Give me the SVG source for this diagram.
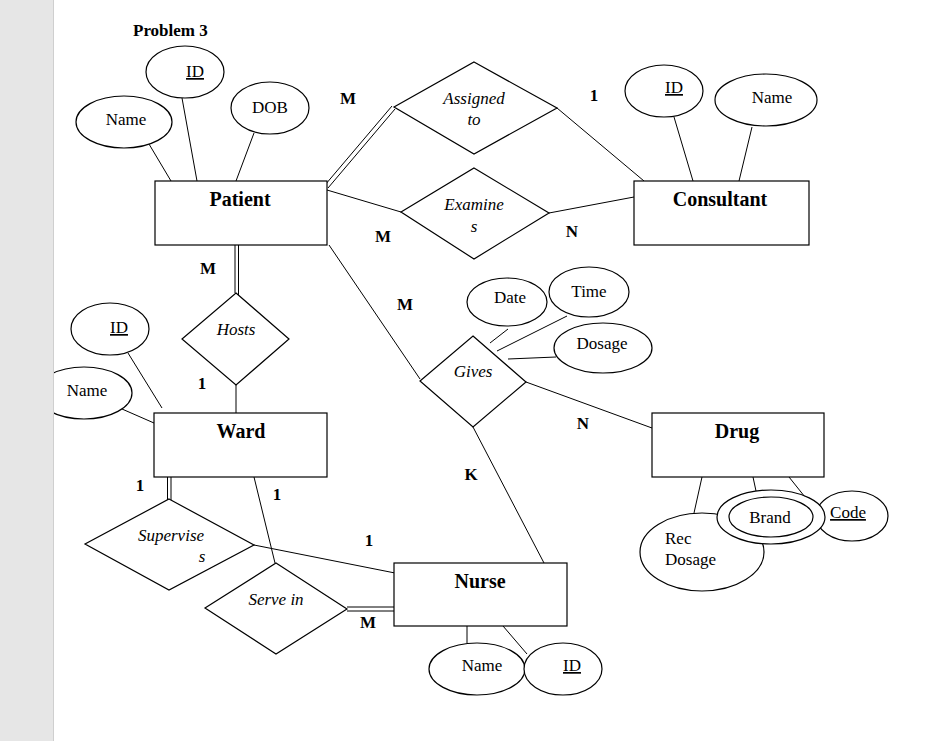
<svg xmlns="http://www.w3.org/2000/svg" width="949" height="741" viewBox="0 0 949 741">
  <style>
    .shape { fill: #ffffff; stroke: #000000; stroke-width: 1.2; }
    .link { stroke: #000000; stroke-width: 1; fill: none; }
    text { font-family: "Liberation Serif", "Times New Roman", serif; fill: #000000; }
    .ent { font-size: 20px; font-weight: bold; text-anchor: middle; }
    .att { font-size: 17px; text-anchor: middle; }
    .rel { font-size: 17px; font-style: italic; text-anchor: middle; }
    .card { font-size: 17px; font-weight: bold; text-anchor: middle; }
    .key { text-decoration: underline; }
  </style>

  <rect x="0" y="0" width="949" height="741" fill="#ffffff"/>

  <text x="133" y="36" style="font-size:17px;font-weight:bold">Problem 3</text>

  <!-- connectors -->
  <g id="connectors">
    <!-- Patient attributes -->
    <line class="link" x1="146" y1="139" x2="171" y2="181"/>
    <line class="link" x1="182" y1="98" x2="197" y2="181"/>
    <line class="link" x1="254" y1="133" x2="236" y2="181"/>
    <!-- Patient = Assigned to (double) -->
    <line class="link" x1="325" y1="185" x2="392" y2="106"/>
    <line class="link" x1="328" y1="188" x2="395" y2="109"/>
    <!-- Assigned to - Consultant -->
    <line class="link" x1="557" y1="108" x2="644" y2="181"/>
    <!-- Patient - Examines - Consultant -->
    <line class="link" x1="327" y1="190" x2="401" y2="212"/>
    <line class="link" x1="549" y1="213" x2="634" y2="197"/>
    <!-- Consultant attributes -->
    <line class="link" x1="674" y1="117" x2="693" y2="181"/>
    <line class="link" x1="752" y1="127" x2="739" y2="181"/>
    <!-- Patient = Hosts (double) - Ward -->
    <line class="link" x1="235" y1="245" x2="235" y2="293"/>
    <line class="link" x1="238.5" y1="245" x2="238.5" y2="295"/>
    <line class="link" x1="236" y1="385" x2="236" y2="413"/>
    <!-- Ward attributes -->
    <line class="link" x1="128" y1="353" x2="162" y2="408"/>
    <line class="link" x1="122" y1="409" x2="154" y2="423"/>
    <!-- Patient - Gives -->
    <line class="link" x1="329" y1="245" x2="420" y2="379"/>
    <!-- Gives attributes -->
    <line class="link" x1="508" y1="329" x2="490" y2="343"/>
    <line class="link" x1="567" y1="316" x2="497" y2="351"/>
    <line class="link" x1="556" y1="357" x2="508" y2="359"/>
    <!-- Gives - Drug, Gives - Nurse -->
    <line class="link" x1="526" y1="382" x2="652" y2="428"/>
    <line class="link" x1="473" y1="427" x2="544" y2="563"/>
    <!-- Drug attributes -->
    <line class="link" x1="702" y1="477" x2="694" y2="513"/>
    <line class="link" x1="753" y1="477" x2="756" y2="491"/>
    <line class="link" x1="789" y1="477" x2="805" y2="497"/>
    <!-- Ward = Supervises (double) - Nurse -->
    <line class="link" x1="167.5" y1="477" x2="167.5" y2="500"/>
    <line class="link" x1="171" y1="477" x2="171" y2="501"/>
    <line class="link" x1="254" y1="545" x2="395" y2="573"/>
    <!-- Ward - Serve in = Nurse (double) -->
    <line class="link" x1="254" y1="477" x2="275" y2="563"/>
    <line class="link" x1="347" y1="607" x2="394" y2="607"/>
    <line class="link" x1="347" y1="611" x2="394" y2="611"/>
    <!-- Nurse attributes -->
    <line class="link" x1="467" y1="626" x2="467" y2="643"/>
    <line class="link" x1="503" y1="626" x2="527" y2="654"/>
  </g>

  <!-- entities -->
  <g id="patient">
    <rect class="shape" x="155" y="181" width="172" height="64"/>
    <text class="ent" x="240" y="206">Patient</text>
  </g>
  <g id="consultant">
    <rect class="shape" x="634" y="181" width="175" height="64"/>
    <text class="ent" x="720" y="206">Consultant</text>
  </g>
  <g id="ward">
    <rect class="shape" x="154" y="413" width="173" height="64"/>
    <text class="ent" x="241" y="438">Ward</text>
  </g>
  <g id="drug">
    <rect class="shape" x="652" y="413" width="172" height="64"/>
    <text class="ent" x="737" y="438">Drug</text>
  </g>
  <g id="nurse">
    <rect class="shape" x="394" y="563" width="173" height="63"/>
    <text class="ent" x="480" y="588">Nurse</text>
  </g>

  <!-- relationships -->
  <g id="assigned-to">
    <polygon class="shape" points="474,62 557,108 474,154 394,107"/>
    <text class="rel" x="474" y="104">Assigned</text>
    <text class="rel" x="474" y="125">to</text>
  </g>
  <g id="examines">
    <polygon class="shape" points="474,168 549,213 474,259 401,212"/>
    <text class="rel" x="474" y="210">Examine</text>
    <text class="rel" x="474" y="232">s</text>
  </g>
  <g id="hosts">
    <polygon class="shape" points="236,293 289,339 236,385 182,339"/>
    <text class="rel" x="236" y="335">Hosts</text>
  </g>
  <g id="gives">
    <polygon class="shape" points="473,336 526,382 473,427 420,381"/>
    <text class="rel" x="473" y="377">Gives</text>
  </g>
  <g id="supervises">
    <polygon class="shape" points="169,499 254,545 169,590 85,544"/>
    <text class="rel" x="171" y="541">Supervise</text>
    <text class="rel" x="202" y="562">s</text>
  </g>
  <g id="serve-in">
    <polygon class="shape" points="276,563 347,609 276,654 205,608"/>
    <text class="rel" x="276" y="605">Serve in</text>
  </g>

  <!-- attributes -->
  <g id="patient-id">
    <ellipse class="shape" cx="185" cy="72" rx="39" ry="26"/>
    <text class="att key" x="195" y="77">ID</text>
  </g>
  <g id="patient-name">
    <ellipse class="shape" cx="124" cy="122" rx="48" ry="26"/>
    <text class="att" x="126" y="125">Name</text>
  </g>
  <g id="patient-dob">
    <ellipse class="shape" cx="270" cy="108" rx="39" ry="26"/>
    <text class="att" x="270" y="113">DOB</text>
  </g>
  <g id="consultant-id">
    <ellipse class="shape" cx="664" cy="91" rx="39" ry="26"/>
    <text class="att key" x="674" y="93">ID</text>
  </g>
  <g id="consultant-name">
    <ellipse class="shape" cx="766" cy="100" rx="51" ry="26"/>
    <text class="att" x="772" y="103">Name</text>
  </g>
  <g id="ward-id">
    <ellipse class="shape" cx="110" cy="329" rx="39" ry="26"/>
    <text class="att key" x="119" y="333">ID</text>
  </g>
  <g id="ward-name">
    <ellipse class="shape" cx="84" cy="393" rx="48" ry="26"/>
    <text class="att" x="87" y="396">Name</text>
  </g>
  <g id="gives-date">
    <ellipse class="shape" cx="507" cy="302" rx="40" ry="24"/>
    <text class="att" x="510" y="303">Date</text>
  </g>
  <g id="gives-time">
    <ellipse class="shape" cx="589" cy="292" rx="40" ry="25"/>
    <text class="att" x="589" y="297">Time</text>
  </g>
  <g id="gives-dosage">
    <ellipse class="shape" cx="603" cy="348" rx="49" ry="25"/>
    <text class="att" x="602" y="349">Dosage</text>
  </g>
  <g id="drug-code">
    <ellipse class="shape" cx="852" cy="516" rx="36" ry="25"/>
    <text class="att key" x="848" y="518">Code</text>
  </g>
  <g id="drug-rec-dosage">
    <ellipse class="shape" cx="702" cy="552" rx="62" ry="39"/>
    <text x="665" y="544" style="font-size:17px">Rec</text>
    <text x="665" y="565" style="font-size:17px">Dosage</text>
  </g>
  <g id="drug-brand">
    <ellipse class="shape" cx="771" cy="517" rx="54" ry="27"/>
    <ellipse class="shape" cx="771" cy="517" rx="42" ry="20"/>
    <text class="att" x="770" y="523">Brand</text>
  </g>
  <g id="nurse-name">
    <ellipse class="shape" cx="477" cy="669" rx="48" ry="26"/>
    <text class="att" x="482" y="671">Name</text>
  </g>
  <g id="nurse-id">
    <ellipse class="shape" cx="563" cy="669" rx="39" ry="26"/>
    <text class="att key" x="572" y="671">ID</text>
  </g>

  <!-- cardinalities -->
  <g id="cardinalities">
    <text class="card" x="348" y="104">M</text>
    <text class="card" x="594" y="101">1</text>
    <text class="card" x="383" y="242">M</text>
    <text class="card" x="572" y="237">N</text>
    <text class="card" x="208" y="274">M</text>
    <text class="card" x="202" y="389">1</text>
    <text class="card" x="405" y="310">M</text>
    <text class="card" x="583" y="429">N</text>
    <text class="card" x="471" y="480">K</text>
    <text class="card" x="140" y="491">1</text>
    <text class="card" x="277" y="500">1</text>
    <text class="card" x="369" y="546">1</text>
    <text class="card" x="368" y="628">M</text>
  </g>

  <!-- page margin strip -->
  <rect x="0" y="0" width="53" height="741" fill="#e6e6e6"/>
  <line x1="53.5" y1="0" x2="53.5" y2="741" stroke="#cfcfcf" stroke-width="1"/>
</svg>
